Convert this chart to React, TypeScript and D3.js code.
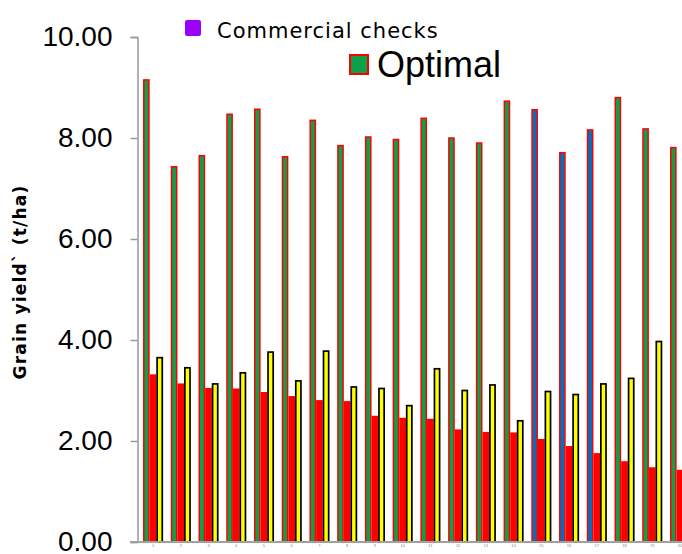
import React, { useEffect, useRef } from "react";
import * as d3 from "d3";

const categories = [
  "1", "2", "3", "4", "5", "6", "7", "8", "9", "10",
  "11", "12", "13", "14", "15", "16", "17", "18", "19", "20",
];
const optimal = [
  9.15, 7.43, 7.65, 8.47, 8.57, 7.63, 8.35, 7.85, 8.02, 7.97,
  8.39, 8.0, 7.9, 8.73, 8.56, 7.71, 8.16, 8.8, 8.18, 7.81,
];
const farmer = [
  3.32, 3.14, 3.05, 3.04, 2.97, 2.89, 2.81, 2.79, 2.5, 2.46,
  2.44, 2.23, 2.18, 2.17, 2.04, 1.9, 1.76, 1.6, 1.48, 1.43,
];
const recommended = [
  3.65, 3.45, 3.13, 3.35, 3.76, 3.19, 3.78, 3.07, 3.04, 2.7,
  3.43, 3.0, 3.11, 2.4, 2.98, 2.92, 3.13, 3.24, 3.97, 2.35,
];
const blueGroups = ["15", "16", "17"];
const yTicks = [0, 2, 4, 6, 8, 10];
const seriesKeys = ["optimal", "farmer", "recommended"];

const width = 682;
const height = 554;

const App: React.FC = () => {
  const svgRef = useRef<SVGSVGElement>(null);

  useEffect(() => {
    if (!svgRef.current) return;
    const svg = d3.select(svgRef.current);
    svg.selectAll("*").remove();

    const axisX = 137.5;
    const y = d3.scaleLinear().domain([0, 10]).range([542, 37]);

    const x = d3
      .scaleBand()
      .domain(categories)
      .range([axisX, axisX + 558])
      .paddingInner(0.28)
      .paddingOuter(0.2);

    const xSub = d3
      .scaleBand()
      .domain(seriesKeys)
      .range([0, x.bandwidth()]);

    const rows = categories.map((c, i) => ({
      cat: c,
      optimal: optimal[i],
      farmer: farmer[i],
      recommended: recommended[i],
    }));

    const groups = svg
      .append("g")
      .selectAll("g")
      .data(rows)
      .join("g")
      .attr("transform", (d) => `translate(${x(d.cat)},0)`);

    // optimal bars (green / blue with red border)
    groups
      .append("rect")
      .attr("x", xSub("optimal")! + 0.75)
      .attr("y", (d) => y(d.optimal))
      .attr("width", xSub.bandwidth() - 1.5)
      .attr("height", (d) => y(0) - y(d.optimal))
      .attr("fill", (d) => (blueGroups.includes(d.cat) ? "#0070c0" : "#0aa14a"))
      .attr("stroke", "#ff0000")
      .attr("stroke-width", 1.5);

    groups
      .append("rect")
      .attr("x", xSub("farmer")!)
      .attr("y", (d) => y(d.farmer))
      .attr("width", xSub.bandwidth())
      .attr("height", (d) => y(0) - y(d.farmer))
      .attr("fill", "#ff0000");

    groups
      .append("rect")
      .attr("x", xSub("recommended")! + 0.75)
      .attr("y", (d) => y(d.recommended))
      .attr("width", xSub.bandwidth() - 1.5)
      .attr("height", (d) => y(0) - y(d.recommended))
      .attr("fill", "#ffff00")
      .attr("stroke", "#000")
      .attr("stroke-width", 1.7);

    // y axis
    const yAxis = svg
      .append("g")
      .attr("transform", `translate(${axisX},0)`)
      .call(
        d3
          .axisLeft(y)
          .tickValues(yTicks)
          .tickFormat((d) => d3.format(".2f")(d as number))
          .tickSize(7)
          .tickPadding(18)
      );
    yAxis.select(".domain").attr("stroke", "#999").attr("stroke-width", 1.5);
    yAxis.selectAll(".tick line").attr("stroke", "#999").attr("stroke-width", 1.5);
    yAxis
      .selectAll(".tick text")
      .attr("fill", "#000")
      .attr("font-family", "Liberation Sans, Arial, sans-serif")
      .attr("font-size", 28);

    // x axis
    const xAxis = svg
      .append("g")
      .attr("transform", `translate(0,${y(0)})`)
      .call(d3.axisBottom(x).tickSize(0).tickPadding(2));
    xAxis.select(".domain").remove();
    xAxis
      .selectAll(".tick text")
      .attr("fill", "#888")
      .attr("font-family", "Liberation Sans, Arial, sans-serif")
      .attr("font-size", 4);
    svg
      .append("line")
      .attr("x1", 130)
      .attr("x2", width)
      .attr("y1", y(0))
      .attr("y2", y(0))
      .attr("stroke", "#a0a0a0")
      .attr("stroke-width", 2);

    // y title
    svg
      .append("text")
      .attr("transform", `translate(26,282) rotate(-90)`)
      .attr("text-anchor", "middle")
      .attr("font-family", "DejaVu Sans, Verdana, sans-serif")
      .attr("font-weight", "bold")
      .attr("font-size", 17)
      .attr("letter-spacing", 1.2)
      .text("Grain yield` (t/ha)");

    // legend
    svg
      .append("rect")
      .attr("x", 185)
      .attr("y", 20)
      .attr("width", 16)
      .attr("height", 16)
      .attr("rx", 2)
      .attr("fill", "#9b00ff");
    svg
      .append("text")
      .attr("x", 217)
      .attr("y", 38)
      .attr("font-family", "DejaVu Sans, Verdana, sans-serif")
      .attr("font-size", 21)
      .attr("letter-spacing", 1)
      .text("Commercial checks");

    svg
      .append("rect")
      .attr("x", 350)
      .attr("y", 55)
      .attr("width", 18)
      .attr("height", 19)
      .attr("fill", "#0aa14a")
      .attr("stroke", "#ff0000")
      .attr("stroke-width", 2);
    svg
      .append("text")
      .attr("x", 377)
      .attr("y", 77)
      .attr("font-family", "Liberation Sans, Arial, sans-serif")
      .attr("font-size", 36)
      .text("Optimal");
  }, []);

  return (
    <svg
      ref={svgRef}
      width={width}
      height={height}
      style={{ position: "absolute", left: 0, top: 0, background: "#fff" }}
    />
  );
};

export default App;
